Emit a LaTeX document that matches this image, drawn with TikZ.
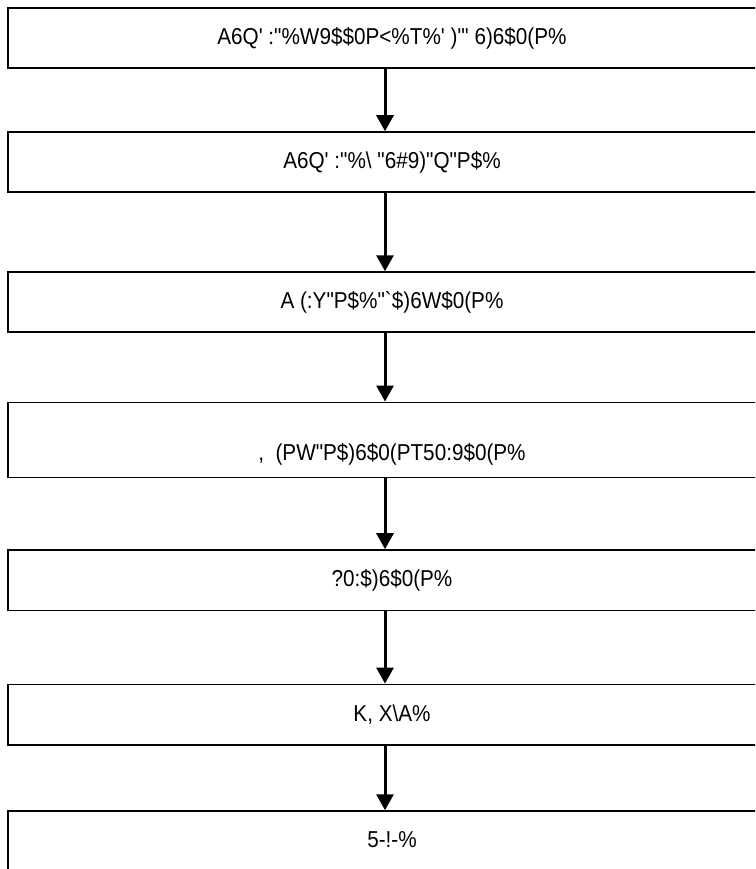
\documentclass[tikz,border=0pt]{standalone}
\usepackage{fontspec}
\newfontfamily\labfont{Liberation Sans}[Ligatures=TeXOff,FakeStretch=0.9]
\usetikzlibrary{arrows.meta}
\begin{document}
\begin{tikzpicture}[x=1pt,y=-1pt,
  box/.style={draw=black,line width=1.5pt,rectangle,minimum width=768pt,inner sep=0pt,font=\labfont\fontsize{23}{26}\selectfont},
  lab/.style={inner sep=0pt,font=\labfont\fontsize{23}{26}\selectfont},
  arr/.style={draw=black,line width=3pt,-{Triangle[length=16pt,width=17pt]}}]
\useasboundingbox (0,0) rectangle (755,869);
\begin{scope}
\clip (0,0) rectangle (755,869);
\node[box,minimum height=60pt] (b1) at (392,38) {A6Q' :"\%W9\$\$0P<\%T\%' )"' 6)6\$0(P\%};
\node[box,minimum height=60pt] (b2) at (392,162) {A6Q' :"\%\textbackslash\ "6\#9)"Q"P\$\%};
\node[box,minimum height=60pt] (b3) at (392,302) {A (:Y"P\$\%"`\$)6W\$0(P\%};
\node[box,minimum height=75pt] (b4) at (392,439.8) {};
\node[lab] (t4) at ([yshift=-15pt]b4.center) {,\ \ (PW"P\$)6\$0(PT50:9\$0(P\%};
\node[box,minimum height=60.7pt] (b5) at (392,580.3) {?0:\$)6\$0(P\%};
\node[box,minimum height=60.7pt] (b6) at (392,714.7) {K, X\textbackslash A\%};
\node[box,minimum height=70pt,text depth=0pt] (b7) at (392,846) {};
\node[lab] (t7) at (392,840) {5-!-\%};
\coordinate (ax) at (385,0);
\draw[arr] (b1.south -| ax) -- (b2.north -| ax);
\draw[arr] (b2.south -| ax) -- (b3.north -| ax);
\draw[arr] (b3.south -| ax) -- (b4.north -| ax);
\draw[arr] (b4.south -| ax) -- (b5.north -| ax);
\draw[arr] (b5.south -| ax) -- (b6.north -| ax);
\draw[arr] (b6.south -| ax) -- (b7.north -| ax);
\end{scope}
\end{tikzpicture}
\end{document}
